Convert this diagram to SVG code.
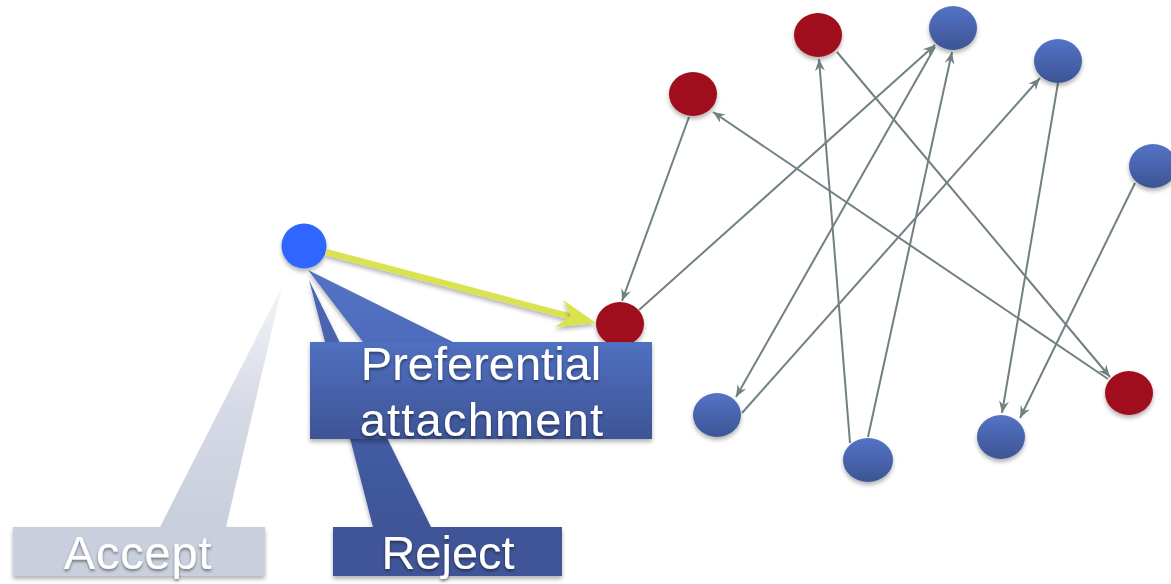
<svg xmlns="http://www.w3.org/2000/svg" width="1171" height="584" viewBox="0 0 1171 584">
<defs>
<style>
.edge{stroke:#718083;stroke-width:2;fill:none;marker-end:url(#ah)}
.red{fill:#A0101A;filter:url(#nsh)}
.blue{fill:url(#gBlue);filter:url(#nsh)}
.lbl{font-family:"Liberation Sans",Arial,sans-serif;font-size:47px;fill:#ffffff;text-anchor:middle;filter:url(#tsh)}
</style>
<linearGradient id="gBlue" x1="0" y1="0" x2="0" y2="1">
<stop offset="0" stop-color="#5473C6"/>
<stop offset="1" stop-color="#3D5494"/>
</linearGradient>
<linearGradient id="gPref" x1="0" y1="0" x2="0" y2="1">
<stop offset="0" stop-color="#5070C0"/>
<stop offset="1" stop-color="#3E5496"/>
</linearGradient>
<linearGradient id="gPrefW" gradientUnits="userSpaceOnUse" x1="0" y1="270" x2="0" y2="440">
<stop offset="0" stop-color="#5373C4"/>
<stop offset="1" stop-color="#4862AE"/>
</linearGradient>
<linearGradient id="gRejW" gradientUnits="userSpaceOnUse" x1="0" y1="280" x2="0" y2="527">
<stop offset="0" stop-color="#4A68B8"/>
<stop offset="1" stop-color="#3F5597"/>
</linearGradient>
<linearGradient id="gAccW" gradientUnits="userSpaceOnUse" x1="0" y1="285" x2="0" y2="527">
<stop offset="0" stop-color="#F4F5F9"/>
<stop offset="0.5" stop-color="#D6DAE6"/>
<stop offset="1" stop-color="#C9CEDC"/>
</linearGradient>
<marker id="ah" markerUnits="userSpaceOnUse" markerWidth="14" markerHeight="12" refX="12" refY="5" orient="auto" viewBox="0 0 14 10">
<path d="M0,0 L12,5 L0,10 L4,5 Z" fill="#718083"/>
</marker>
<filter id="nsh" x="-30%" y="-30%" width="160%" height="170%">
<feDropShadow dx="0" dy="3" stdDeviation="2" flood-color="#000" flood-opacity="0.3"/>
</filter>
<filter id="bsh" x="-10%" y="-20%" width="120%" height="150%">
<feDropShadow dx="0" dy="3" stdDeviation="2" flood-color="#000" flood-opacity="0.3"/>
</filter>
<filter id="tsh" x="-10%" y="-20%" width="120%" height="150%">
<feDropShadow dx="0" dy="2" stdDeviation="1.5" flood-color="#000" flood-opacity="0.45"/>
</filter>
</defs>
<rect width="1171" height="584" fill="#ffffff"/>

<g id="connectors">
<line class="edge" x1="689" y1="117" x2="622" y2="301"/>
<line class="edge" x1="639" y1="310" x2="935" y2="45"/>
<line class="edge" x1="935" y1="47" x2="736" y2="397"/>
<line class="edge" x1="742" y1="413" x2="1040" y2="78"/>
<line class="edge" x1="850" y1="443" x2="819" y2="59"/>
<line class="edge" x1="868" y1="437" x2="952" y2="52"/>
<line class="edge" x1="837" y1="52" x2="1110" y2="377"/>
<line class="edge" x1="1108" y1="379" x2="713" y2="112"/>
<line class="edge" x1="1058" y1="83" x2="1002" y2="413"/>
<line class="edge" x1="1135" y1="183" x2="1020" y2="418"/>
</g>

<g id="nodes">
<ellipse id="nA" class="red" cx="693" cy="94" rx="24" ry="22"/>
<ellipse id="nB" class="red" cx="818" cy="35" rx="24" ry="22"/>
<ellipse id="nC" class="blue" cx="953" cy="28" rx="24" ry="22"/>
<ellipse id="nD" class="blue" cx="1058" cy="61" rx="24" ry="22"/>
<ellipse id="nE" class="blue" cx="1153" cy="166" rx="24" ry="22"/>
<ellipse id="nF" class="blue" cx="717" cy="415" rx="24" ry="22"/>
<ellipse id="nG" class="blue" cx="868" cy="460" rx="25" ry="22"/>
<ellipse id="nH" class="blue" cx="1001" cy="437" rx="24" ry="22"/>
<ellipse id="nI" class="red" cx="1129" cy="393" rx="24" ry="22"/>
<ellipse id="nJ" class="red" cx="620" cy="324" rx="24" ry="22"/>
</g>

<g id="accept">
<polygon points="282,287 160,527 226,527" fill="url(#gAccW)"/>
<rect x="13" y="527" width="252" height="49" fill="#CACFDD" filter="url(#bsh)"/>
<text class="lbl" x="138" y="569" style="letter-spacing:0.8px">Accept</text>
</g>

<g id="reject">
<polygon points="309,280 373,527 431,527" fill="url(#gRejW)" filter="url(#bsh)"/>
<rect x="333" y="527" width="229" height="49" fill="#3F5597" filter="url(#bsh)"/>
<text class="lbl" x="448" y="569">Reject</text>
</g>

<g id="source">
<circle cx="304" cy="246" r="22.5" fill="#2F66FF" filter="url(#nsh)"/>
</g>

<g id="attach-arrow">
<line x1="326" y1="252" x2="572" y2="317" stroke="#DAE24E" stroke-width="6" filter="url(#nsh)"/>
<polygon points="596,323 563,300 571,316 555,327" fill="#DAE24E" filter="url(#nsh)"/>
</g>

<g id="preferential">
<polygon points="308,270 363,342 453,342" fill="url(#gPrefW)" filter="url(#bsh)"/>
<rect x="310" y="342" width="342" height="97" fill="url(#gPref)" filter="url(#bsh)"/>
<text class="lbl" x="481" y="380">Preferential</text>
<text class="lbl" x="482" y="436" style="letter-spacing:1.2px">attachment</text>
</g>
</svg>
